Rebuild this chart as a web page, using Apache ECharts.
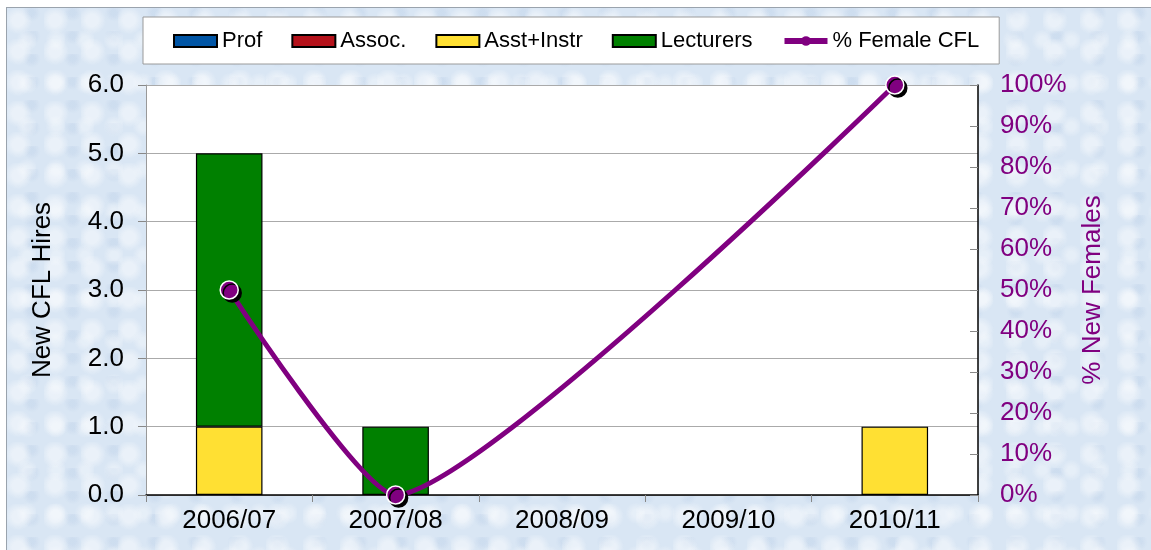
<!DOCTYPE html>
<html>
<head>
<meta charset="utf-8">
<script src="https://cdn.jsdelivr.net/npm/echarts@6/dist/echarts.min.js"></script>
<style>
  html, body { margin: 0; padding: 0; background: #fff; }
  #wrap { position: relative; width: 1151px; height: 550px; overflow: hidden; }
  #bg {
    position: absolute; left: 6px; top: 7px; width: 1160px; height: 560px;
    border: 1px solid #9aa3ad;
    background-color: #d9e6f4;
    background-image:
      radial-gradient(circle at 30% 40%, rgba(255,255,255,0.45) 0 6px, rgba(255,255,255,0) 14px),
      radial-gradient(circle at 70% 75%, rgba(255,255,255,0.35) 0 4px, rgba(255,255,255,0) 11px),
      radial-gradient(circle at 60% 20%, rgba(185,205,230,0.35) 0 3px, rgba(185,205,230,0) 9px);
    background-size: 37px 31px, 29px 43px, 41px 23px;
  }
  #chart { position: absolute; left: 0; top: 0; width: 1151px; height: 550px; }
</style>
</head>
<body>
<div id="wrap">
  <div id="bg"></div>
  <div id="chart"></div>
</div>
<script>
var years = ['2006/07', '2007/08', '2008/09', '2009/10', '2010/11'];
var prof = [0, 0, 0, 0, 0];
var assoc = [0, 0, 0, 0, 0];
var asstInstr = [1, 0, 0, 0, 1];
var lecturers = [4, 1, 0, 0, 0];
var pctFemale = [0.5, 0, null, null, 1];

var font = 'Liberation Sans, Arial, sans-serif';
var myChart = echarts.init(document.getElementById('chart'));

// zero-height stacked bars would leave a stray border line, so skip them
function barSeries(name, data, color) {
    return {
        name: name,
        type: 'bar',
        stack: 'hires',
        barWidth: '40%',
        data: data.map(function (v) { return v === 0 ? '-' : v; }),
        itemStyle: { color: color, borderColor: '#000', borderWidth: 1.2 }
    };
}

function legendBox(name) {
    return { name: name, icon: 'rect', itemStyle: { borderColor: '#000', borderWidth: 2 } };
}

var option = {
    backgroundColor: 'transparent',
    textStyle: { fontFamily: font },
    legend: {
        left: 143,
        top: 17,
        padding: [13, 20, 12, 30],
        backgroundColor: '#fff',
        borderColor: '#9a9a9a',
        borderWidth: 1,
        itemGap: 29,
        itemWidth: 43,
        itemHeight: 12,
        textStyle: { fontFamily: font, fontSize: 22, color: '#000' },
        data: [
            legendBox('Prof'), legendBox('Assoc.'), legendBox('Asst+Instr'), legendBox('Lecturers'),
            { name: '% Female CFL', lineStyle: { width: 6 }, itemStyle: { borderWidth: 0 } }
        ]
    },
    grid: {
        left: 146, right: 173, top: 85, bottom: 55,
        show: true, backgroundColor: '#fff', borderWidth: 0
    },
    xAxis: {
        type: 'category',
        data: years,
        axisLine: { lineStyle: { color: '#000', width: 1.5 } },
        axisTick: { show: true, length: 7, lineStyle: { color: '#888' } },
        axisLabel: { fontFamily: font, fontSize: 26, color: '#000', margin: 13 }
    },
    yAxis: [{
        type: 'value',
        min: 0, max: 6, interval: 1,
        name: 'New CFL Hires',
        nameLocation: 'middle',
        nameGap: 90,
        nameTextStyle: { fontFamily: font, fontSize: 26, color: '#000' },
        axisLine: { show: true, lineStyle: { color: '#999' } },
        axisTick: { show: true, length: 8, lineStyle: { color: '#888' } },
        axisLabel: {
            fontFamily: font, fontSize: 26, color: '#000', margin: 22,
            formatter: function (v) { return v.toFixed(1); }
        },
        splitLine: { lineStyle: { color: '#aaa', width: 1 } }
    }, {
        type: 'value',
        min: 0, max: 1, interval: 0.1,
        position: 'right',
        name: '% New Females',
        nameLocation: 'middle',
        nameGap: 102,
        nameRotate: 90,
        nameTextStyle: { fontFamily: font, fontSize: 26, color: '#800080' },
        axisLine: { show: true, lineStyle: { color: '#000', width: 1.5 } },
        axisTick: { show: true, inside: true, length: 8, lineStyle: { color: '#888' } },
        axisLabel: {
            fontFamily: font, fontSize: 26, color: '#800080', margin: 22,
            formatter: function (v) { return Math.round(v * 100) + '%'; }
        },
        splitLine: { show: false }
    }],
    series: [
        barSeries('Prof', prof, '#0055a5'),
        barSeries('Assoc.', assoc, '#b5121b'),
        barSeries('Asst+Instr', asstInstr, '#ffe033'),
        barSeries('Lecturers', lecturers, '#008000'),
        {
            name: '% Female CFL',
            type: 'line',
            yAxisIndex: 1,
            data: pctFemale,
            connectNulls: true,
            smooth: 0.17,
            symbol: 'circle',
            symbolSize: 18,
            lineStyle: { color: '#800080', width: 5 },
            itemStyle: {
                color: '#800080', borderColor: '#fff', borderWidth: 1.5,
                shadowColor: '#000', shadowOffsetX: 3, shadowOffsetY: 3, shadowBlur: 0
            },
            z: 5
        }
    ]
};

myChart.setOption(option);
</script>
</body>
</html>
